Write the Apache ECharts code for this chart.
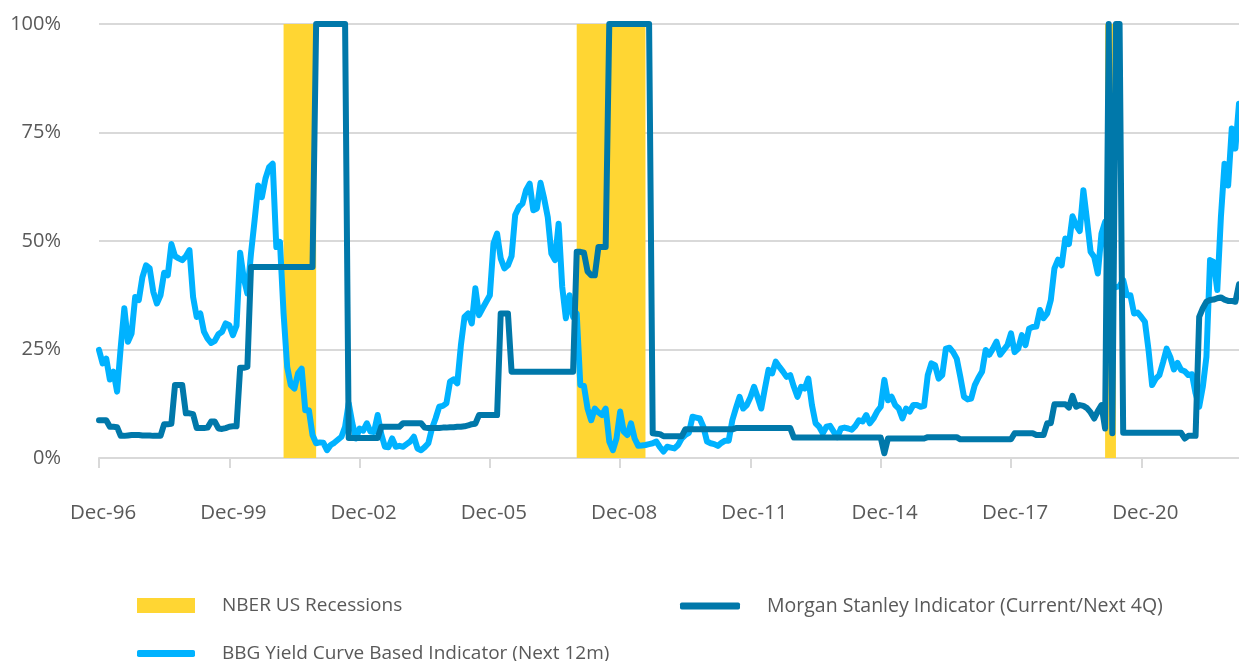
<!DOCTYPE html>
<html>
<head>
<meta charset="utf-8">
<style>
  html, body { margin: 0; padding: 0; background: #fff; }
  #main { width: 1239px; height: 661px; }
</style>
<script src="https://cdn.jsdelivr.net/npm/echarts@6/dist/echarts.min.js"></script>
</head>
<body>
<div id="main"></div>
<script>
// monthly series, Dec-96 .. Mar-23 (values in %)
const bbgYieldCurve = [
  24.9, 21.8, 22.9, 18.1, 19.9, 15.3, 25.5, 34.5, 26.8, 28.7,
  37.1, 36.4, 41.7, 44.4, 43.7, 38.3, 35.6, 37.5, 42.7, 42.1,
  49.3, 46.5, 46.0, 45.6, 46.5, 47.9, 37.1, 32.5, 33.3, 29.1,
  27.5, 26.5, 27.0, 28.5, 29.1, 31.0, 30.6, 28.3, 30.5, 47.3,
  41.4, 37.9, 47.1, 54.8, 62.8, 60.1, 64.4, 67.0, 67.8, 48.6,
  49.8, 33.3, 21.0, 16.8, 16.0, 19.5, 20.6, 11.0, 11.0, 5.3,
  3.4, 3.6, 3.5, 1.8, 3.0, 3.5, 4.2, 4.9, 7.2, 12.6,
  8.0, 4.5, 6.8, 6.3, 8.0, 6.1, 6.0, 9.9, 5.5, 2.6,
  2.5, 4.5, 2.6, 2.8, 2.6, 3.2, 3.8, 4.9, 2.2, 1.8,
  2.5, 3.4, 6.8, 9.1, 11.8, 12.0, 12.6, 17.6, 18.1, 17.2,
  26.0, 32.5, 33.3, 31.0, 39.1, 32.9, 34.5, 36.0, 37.5, 49.4,
  51.7, 46.0, 43.7, 44.4, 46.5, 56.0, 57.8, 58.6, 61.7, 63.2,
  57.1, 57.5, 63.4, 59.8, 55.5, 47.1, 45.6, 54.0, 39.4, 32.2,
  37.5, 32.5, 33.3, 16.8, 16.6, 11.4, 8.7, 11.4, 10.5, 9.9,
  11.4, 3.8, 1.8, 4.5, 10.7, 6.1, 5.3, 8.0, 4.5, 2.8,
  2.9, 3.0, 3.2, 3.4, 3.8, 2.5, 1.5, 2.6, 2.4, 2.2,
  3.0, 4.5, 5.3, 5.8, 9.5, 9.3, 9.1, 7.2, 3.8, 3.4,
  3.2, 2.8, 3.5, 4.0, 4.0, 8.7, 11.5, 14.1, 11.4, 12.2,
  14.0, 16.4, 14.0, 11.4, 16.0, 20.3, 19.5, 22.2, 21.0, 19.9,
  18.7, 19.1, 16.4, 14.1, 16.4, 16.0, 18.3, 12.2, 8.0, 7.2,
  5.7, 7.2, 7.4, 6.1, 4.8, 6.8, 7.0, 6.8, 6.5, 7.4,
  8.7, 8.4, 9.9, 8.0, 9.1, 10.7, 11.8, 18.0, 13.3, 14.1,
  12.2, 11.4, 9.1, 11.4, 10.7, 12.2, 12.2, 11.8, 12.0, 19.1,
  21.8, 21.4, 18.3, 19.1, 25.2, 25.4, 24.4, 22.9, 18.7, 14.1,
  13.5, 13.7, 16.8, 18.5, 19.9, 24.9, 23.8, 25.2, 26.8, 23.8,
  24.9, 26.0, 28.7, 24.4, 25.2, 28.3, 26.0, 29.8, 30.2, 30.3,
  34.1, 32.2, 33.3, 36.4, 43.7, 45.7, 44.4, 50.6, 49.3, 55.7,
  53.6, 52.3, 61.7, 54.8, 47.5, 46.3, 42.5, 51.7, 54.4, 38.3,
  39.0, 39.4, 39.6, 41.0, 37.5, 37.5, 33.3, 33.5, 32.5, 31.4,
  24.9, 16.8, 18.3, 19.1, 22.0, 25.2, 23.3, 20.4, 21.9, 20.3,
  20.0, 19.1, 19.3, 14.9, 11.8, 16.4, 23.3, 45.6, 45.2, 38.7,
  55.5, 67.8, 62.8, 75.9, 71.3, 81.6
];

const morganStanley = [
  8.7, 8.7, 8.7, 7.2, 7.2, 7.1, 5.1, 5.1, 5.2, 5.3,
  5.3, 5.3, 5.2, 5.2, 5.2, 5.1, 5.1, 5.1, 7.8, 7.8,
  7.9, 16.8, 16.8, 16.8, 10.3, 10.3, 10.1, 6.9, 6.9, 6.9,
  7.0, 8.4, 8.4, 6.8, 6.7, 6.9, 7.2, 7.3, 7.3, 20.8,
  20.8, 21.0, 44, 44, 44, 44, 44, 44, 44, 44,
  44, 44, 44, 44, 44, 44, 44, 44, 44, 44,
  100, 100, 100, 100, 100, 100, 100, 100, 100, 4.6,
  4.6, 4.6, 4.6, 4.6, 4.6, 4.6, 4.6, 4.6, 7.2, 7.2,
  7.2, 7.2, 7.2, 7.2, 8.0, 8.0, 8.0, 8.0, 8.0, 8.0,
  7.0, 6.9, 6.9, 6.9, 6.9, 7.0, 7.0, 7.1, 7.1, 7.2,
  7.2, 7.3, 7.5, 7.8, 7.9, 9.9, 9.9, 9.9, 9.9, 9.9,
  9.9, 33.3, 33.3, 33.3, 19.9, 19.9, 19.9, 19.9, 19.9, 19.9,
  19.9, 19.9, 19.9, 19.9, 19.9, 19.9, 19.9, 19.9, 19.9, 19.9,
  19.9, 19.9, 47.5, 47.5, 47.3, 43.0, 42.1, 42.1, 48.6, 48.6,
  48.6, 100, 100, 100, 100, 100, 100, 100, 100, 100,
  100, 100, 100, 5.7, 5.6, 5.5, 5.0, 5.0, 5.0, 5.0,
  5.0, 5.0, 6.6, 6.6, 6.6, 6.6, 6.6, 6.6, 6.6, 6.6,
  6.6, 6.6, 6.6, 6.6, 6.6, 6.6, 6.9, 6.9, 6.9, 6.9,
  6.9, 6.9, 6.9, 6.9, 6.9, 6.9, 6.9, 6.9, 6.9, 6.9,
  6.9, 6.9, 4.7, 4.7, 4.7, 4.7, 4.7, 4.7, 4.7, 4.7,
  4.7, 4.7, 4.7, 4.7, 4.7, 4.7, 4.7, 4.7, 4.7, 4.7,
  4.7, 4.7, 4.7, 4.7, 4.7, 4.7, 4.7, 1.1, 4.5, 4.5,
  4.5, 4.5, 4.5, 4.5, 4.5, 4.5, 4.5, 4.5, 4.5, 4.8,
  4.8, 4.8, 4.8, 4.8, 4.8, 4.8, 4.8, 4.8, 4.3, 4.3,
  4.3, 4.3, 4.3, 4.3, 4.3, 4.3, 4.3, 4.3, 4.3, 4.3,
  4.3, 4.3, 4.3, 5.7, 5.7, 5.7, 5.7, 5.7, 5.7, 5.3,
  5.3, 5.3, 8.0, 8.0, 12.4, 12.4, 12.4, 12.4, 11.6, 14.3,
  11.8, 12.2, 12.0, 11.5, 10.5, 9.1, 10.8, 12.2, 6.8, 100,
  5.7, 100, 100, 5.8, 5.8, 5.8, 5.8, 5.8, 5.8, 5.8,
  5.8, 5.8, 5.8, 5.8, 5.8, 5.8, 5.8, 5.8, 5.8, 5.8,
  4.5, 5.1, 5.1, 5.1, 32.5, 34.5, 36.0, 36.4, 36.5, 36.8,
  37.0, 36.5, 36.2, 36.2, 36.0, 40.0
];

// NBER recession months (first and last month of each)
const recessionStart = ["Mar-01", "Dec-07", "Feb-20"];
const recessionEnd = ["Nov-01", "Jun-09", "Apr-20"];

const yTicks = [0, 25, 50, 75, 100];

// month labels Dec-96 .. Mar-23
const monthNames = ["Jan","Feb","Mar","Apr","May","Jun","Jul","Aug","Sep","Oct","Nov","Dec"];
let months = [];
for (let k = 0; k < bbgYieldCurve.length; k++) {
  let m = (11 + k) % 12;
  let y = (1996 + Math.floor((11 + k) / 12)) % 100;
  months.push(monthNames[m] + "-" + String(y).padStart(2, "0"));
}

// shade each recession through to the start of the month after it ends
let recessionAreas = recessionStart.map((s, k) => {
  let endIdx = Math.min(months.indexOf(recessionEnd[k]) + 1, months.length - 1);
  return [{ xAxis: months.indexOf(s) }, { xAxis: endIdx }];
});

const font = "'Open Sans', sans-serif";
const grey = "#595959";
const yellow = "#FFD633";
const lightBlue = "#00B2FF";
const darkBlue = "#0078AA";

let myChart = echarts.init(document.getElementById("main"));

let legendBase = {
  orient: "horizontal",
  padding: 0,
  textStyle: { fontFamily: font, fontSize: 19, color: grey, padding: [0, 0, 0, 22] },
  selectedMode: false,
};

let options = {
  animation: false,
  grid: { left: 99, right: 0, top: 24, bottom: 203 },
  legend: [
    Object.assign({}, legendBase, {
      data: ["NBER US Recessions"], left: 137, top: 596,
      icon: "rect", itemWidth: 58, itemHeight: 15,
    }),
    Object.assign({}, legendBase, {
      data: ["Morgan Stanley Indicator (Current/Next 4Q)"], left: 680, top: 596,
      icon: "roundRect", itemWidth: 60, itemHeight: 7,
      textStyle: Object.assign({}, legendBase.textStyle, { fontSize: 19.5 }),
    }),
    Object.assign({}, legendBase, {
      data: ["BBG Yield Curve Based Indicator (Next 12m)"], left: 137, top: 644,
      icon: "roundRect", itemWidth: 58, itemHeight: 7,
    }),
  ],
  xAxis: {
    type: "category",
    data: months,
    boundaryGap: false,
    axisLine: { lineStyle: { color: "#d9d9d9", width: 2 } },
    axisTick: { show: true, interval: 35, length: 10, lineStyle: { color: "#d9d9d9", width: 2 } },
    axisLabel: {
      interval: 35, margin: 45, padding: [0, 0, 0, 8],
      fontFamily: font, fontSize: 20.5, color: grey,
    },
    splitLine: { show: false },
  },
  yAxis: {
    type: "value",
    min: yTicks[0],
    max: yTicks[yTicks.length - 1],
    interval: 25,
    axisLine: { show: false },
    axisTick: { show: false },
    axisLabel: { formatter: "{value}%", margin: 38, fontFamily: font, fontSize: 20, color: grey },
    splitLine: { lineStyle: { color: "#d9d9d9", width: 2 } },
  },
  series: [
    {
      name: "NBER US Recessions",
      type: "bar",
      data: [],
      color: yellow,
    },
    {
      name: "BBG Yield Curve Based Indicator (Next 12m)",
      type: "line",
      data: bbgYieldCurve,
      color: lightBlue,
      symbol: "none",
      z: 3,
      lineStyle: { width: 6, color: lightBlue, cap: "round", join: "round" },
      markArea: {
        silent: true,
        z: 1,
        itemStyle: { color: yellow },
        data: recessionAreas,
      },
    },
    {
      name: "Morgan Stanley Indicator (Current/Next 4Q)",
      type: "line",
      data: morganStanley,
      color: darkBlue,
      symbol: "none",
      z: 4,
      lineStyle: { width: 6, color: darkBlue, cap: "round", join: "round" },
    },
  ],
};

myChart.setOption(options);
</script>
</body>
</html>
